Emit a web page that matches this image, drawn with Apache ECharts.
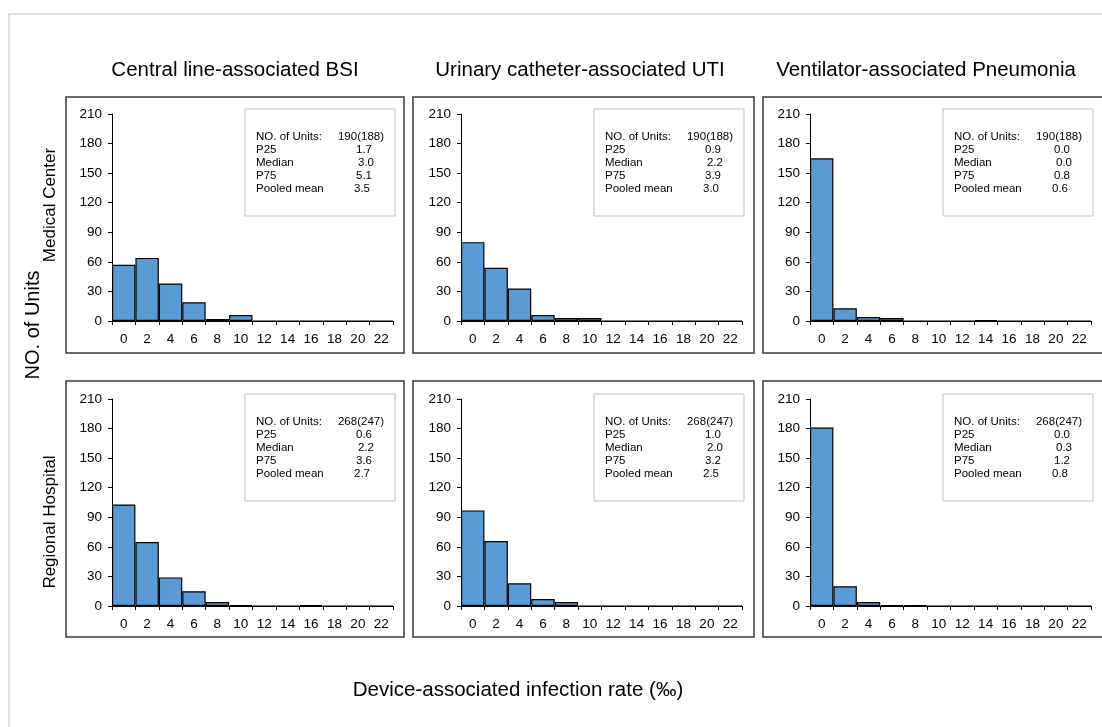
<!DOCTYPE html>
<html>
<head>
<meta charset="utf-8">
<script src="https://cdn.jsdelivr.net/npm/echarts@6/dist/echarts.min.js"></script>
<style>
html,body{margin:0;padding:0;background:#fff;}
#chart{width:1102px;height:727px;}
</style>
</head>
<body>
<div id="chart"></div>
<script>
// ---- data ----
var categories = ['0','2','4','6','8','10','12','14','16','18','20','22'];
var colTitles = ['Central line-associated BSI','Urinary catheter-associated UTI','Ventilator-associated Pneumonia'];
var rowTitles = ['Medical Center','Regional Hospital'];
var yTitle = 'NO. of Units';
var xTitle = 'Device-associated infection rate (\u2030)';
var yTicks = [0,30,60,90,120,150,180,210];

var mcBSI = [57,64,38,19,2,6,0,0,0,0,0,0];
var mcUTI = [80,54,33,6,3,3,0,0,0,0,0,0];
var mcVAP = [165,13,4,3,0,0,0,1,0,0,0,0];
var rhBSI = [103,65,29,15,4,1,0,0,1,0,0,0];
var rhUTI = [97,66,23,7,4,0,0,0,0,0,0,0];
var rhVAP = [181,20,4,1,1,0,0,0,0,0,0,0];

var statLabels = ['NO. of Units:','P25','Median','P75','Pooled mean'];
var mcBSIStats = ['190(188)','1.7','3.0','5.1','3.5'];
var mcUTIStats = ['190(188)','0.9','2.2','3.9','3.0'];
var mcVAPStats = ['190(188)','0.0','0.0','0.8','0.6'];
var rhBSIStats = ['268(247)','0.6','2.2','3.6','2.7'];
var rhUTIStats = ['268(247)','1.0','2.0','3.2','2.5'];
var rhVAPStats = ['268(247)','0.0','0.3','1.2','0.8'];

// ---- layout ----
var panelSeries = [[mcBSI,mcUTI,mcVAP],[rhBSI,rhUTI,rhVAP]];
var panelStats = [[mcBSIStats,mcUTIStats,mcVAPStats],[rhBSIStats,rhUTIStats,rhVAPStats]];
var boxX = [66,413,763], boxW = [338,341,345];
var boxY = [97,381], boxH = 256;
var gridL = [112,461,810], gridW = 281;
var gridT = [114,399], gridH = 207;
var FONT = 'Liberation Sans, Arial, sans-serif';

var grids=[], xAxes=[], yAxes=[], series=[], graphics=[];

graphics.push({type:'rect', shape:{x:9,y:14,width:1110,height:730},
  style:{fill:'none', stroke:'#d4d4d4', lineWidth:1.5}, silent:true});

var idx=0;
for (var r=0;r<2;r++){
  for (var c=0;c<3;c++){
    graphics.push({type:'rect', shape:{x:boxX[c],y:boxY[r],width:boxW[c],height:boxH},
      style:{fill:'none', stroke:'#3a3a3a', lineWidth:1.5}, silent:true});
    grids.push({left:gridL[c], top:gridT[r], width:gridW, height:gridH, containLabel:false});
    xAxes.push({type:'category', gridIndex:idx, data:categories, boundaryGap:true,
      axisLine:{lineStyle:{color:'#000',width:1}},
      axisTick:{show:true, length:4, lineStyle:{color:'#000'}},
      axisLabel:{color:'#000', fontSize:13.5, fontFamily:FONT, margin:11, interval:0}});
    yAxes.push({type:'value', gridIndex:idx, min:0, max:210, interval:30,
      axisLine:{show:true, lineStyle:{color:'#000',width:1}},
      axisTick:{show:true, length:4, lineStyle:{color:'#000'}},
      splitLine:{show:false},
      axisLabel:{color:'#000', fontSize:13.5, fontFamily:FONT, margin:10}});
    series.push({type:'bar', xAxisIndex:idx, yAxisIndex:idx, data:panelSeries[r][c],
      barCategoryGap:'0%', silent:true,
      itemStyle:{color:'#5b9bd5', borderColor:'#000', borderWidth:1.2}});
    // info box
    var bx = gridL[c]+133, by = gridT[r]-5;
    graphics.push({type:'rect', shape:{x:bx,y:by,width:150,height:107},
      style:{fill:'#fff', stroke:'#c0c0c0', lineWidth:1}, silent:true, z:10});
    var st = panelStats[r][c];
    for (var k=0;k<5;k++){
      var ty = by+28+k*13;
      graphics.push({type:'text', z:11, silent:true,
        style:{text:statLabels[k], x:bx+11, y:ty, fill:'#000', fontSize:11.5, fontFamily:FONT,
          textAlign:'left', textVerticalAlign:'middle'}});
      var vx = (k===0)? bx+139 : bx+119 + (k===2?2:(k===4?-2:0));
      graphics.push({type:'text', z:11, silent:true,
        style:{text:st[k], x:vx, y:ty, fill:'#000', fontSize:11.5, fontFamily:FONT,
          textAlign:(k===0?'right':'center'), textVerticalAlign:'middle'}});
    }
    idx++;
  }
}
// column titles
var colCenters = [235, 580, 926];
for (var c2=0;c2<3;c2++){
  graphics.push({type:'text', silent:true,
    style:{text:colTitles[c2], x:colCenters[c2], y:70, fill:'#000', fontSize:20.5, fontFamily:FONT,
      textAlign:'center', textVerticalAlign:'middle'}});
}
// row titles
var rowCenters = [205, 522];
for (var r2=0;r2<2;r2++){
  graphics.push({type:'text', silent:true, x:50, y:rowCenters[r2], rotation:Math.PI/2,
    style:{text:rowTitles[r2], x:0, y:0, fill:'#000', fontSize:17, fontFamily:FONT,
      textAlign:'center', textVerticalAlign:'middle'}});
}
graphics.push({type:'text', silent:true, x:33, y:325, rotation:Math.PI/2,
  style:{text:yTitle, x:0, y:0, fill:'#000', fontSize:20, fontFamily:FONT,
    textAlign:'center', textVerticalAlign:'middle'}});
graphics.push({type:'text', silent:true,
  style:{text:xTitle, x:518, y:690, fill:'#000', fontSize:20.5, fontFamily:FONT,
    textAlign:'center', textVerticalAlign:'middle'}});

var chart = echarts.init(document.getElementById('chart'), null, {renderer:'canvas'});
chart.setOption({
  animation:false,
  backgroundColor:'#fff',
  grid:grids, xAxis:xAxes, yAxis:yAxes, series:series,
  graphic:graphics
});
</script>
</body>
</html>
